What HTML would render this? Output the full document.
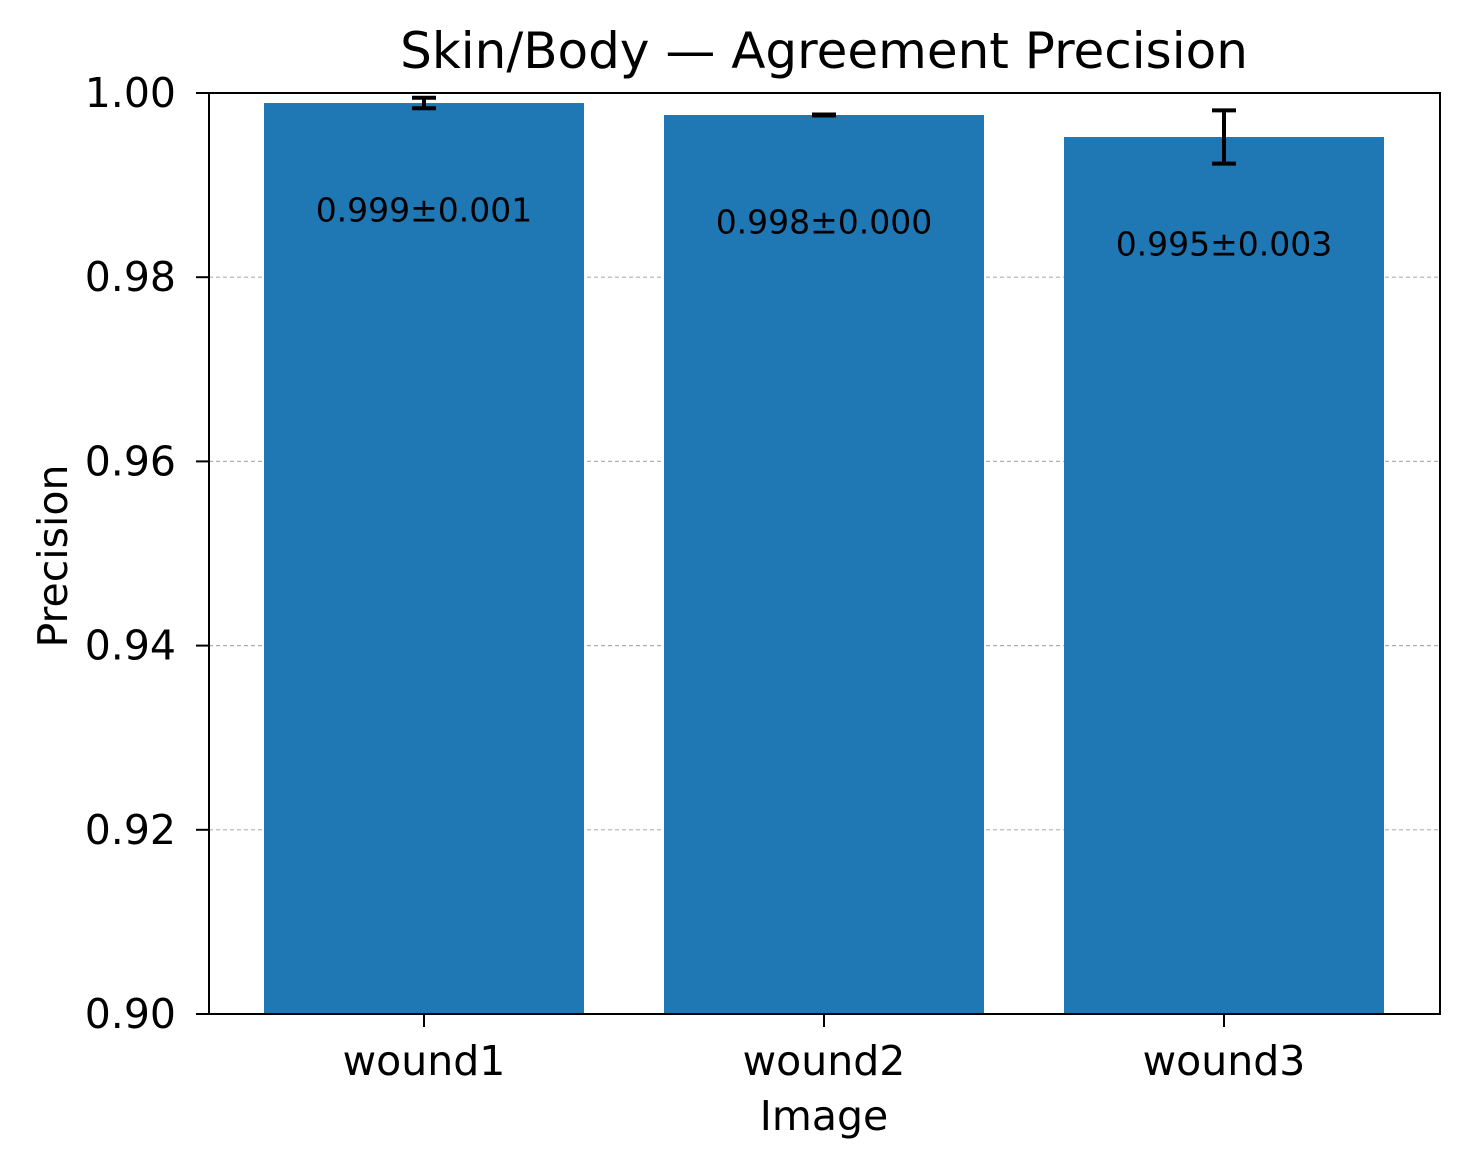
<!DOCTYPE html>
<html><head><meta charset="utf-8"><style>
body{margin:0;background:#fff}
text{font-family:"DejaVu Sans","Liberation Sans",sans-serif;fill:#000}
</style></head><body>
<svg width="1470" height="1170" viewBox="0 0 1470 1170" xmlns="http://www.w3.org/2000/svg">
<rect width="1470" height="1170" fill="#fff"/>
<g id="grid"></g><g id="bars"></g><g id="errs"></g><g id="labels"></g><g id="ticks"></g>
<rect x="209" y="93" width="1231" height="921" fill="none" stroke="#000" stroke-width="2"/>
<text x="824" y="68" font-size="50" text-anchor="middle">Skin/Body — Agreement Precision</text>
<text x="824" y="1130" font-size="41" text-anchor="middle">Image</text>
<text transform="translate(67,556) rotate(-90)" font-size="41" text-anchor="middle">Precision</text>
</svg>
<script>
const categories=["wound1","wound2","wound3"];
const values=[0.99891,0.99761,0.99522];
const errors=[0.00057,0.00005,0.00289];
const valueLabels=["0.999±0.001","0.998±0.000","0.995±0.003"];
const yTicks=[0.90,0.92,0.94,0.96,0.98,1.00];
const yTickLabels=["0.90","0.92","0.94","0.96","0.98","1.00"];
const NS="http://www.w3.org/2000/svg";
const L=209,R=1440,T=93,B=1014,ymin=0.90,ymax=1.00;
const y=v=>B-(v-ymin)/(ymax-ymin)*(B-T);
const x=i=>424+i*400;
function mk(tag,attrs,parent,txt){const e=document.createElementNS(NS,tag);for(const k in attrs)e.setAttribute(k,attrs[k]);if(txt!==undefined)e.textContent=txt;document.getElementById(parent).appendChild(e);return e;}
yTicks.forEach((t,i)=>{
  if(t>ymin&&t<ymax){const g=mk('line',{x1:L,x2:R,y1:y(t),y2:y(t),stroke:'#b0b0b0','stroke-width':1.2,'stroke-dasharray':'4,3'},'grid');
  
  }
  const tk=mk('line',{x1:L-13,x2:L,y1:y(t),y2:y(t),stroke:'#000','stroke-width':2},'ticks');
  
  
  const tl=mk('text',{x:L-33,y:y(t),'font-size':41,'text-anchor':'end','dominant-baseline':'central'},'ticks',yTickLabels[i]);
  
  
});
categories.forEach((c,i)=>{
  const cx=x(i);
  const b=mk('rect',{x:cx-160,y:y(values[i]),width:320,height:B-y(values[i]),fill:'#1f77b4'},'bars');
  
  
  const y1=y(values[i]+errors[i]),y2=y(values[i]-errors[i]);
  const e=mk('path',{d:`M${cx},${y1}V${y2}M${cx-12},${y1}H${cx+12}M${cx-12},${y2}H${cx+12}`,stroke:'#000','stroke-width':4,fill:'none'},'errs');
  
  
  const lb=mk('text',{x:cx,y:y(values[i]-0.0116),'font-size':33,'text-anchor':'middle','dominant-baseline':'central'},'labels',valueLabels[i]);
  
  
  const tk=mk('line',{x1:cx,x2:cx,y1:B,y2:B+13,stroke:'#000','stroke-width':2},'ticks');
  
  
  const tl=mk('text',{x:cx,y:1075,'font-size':41,'text-anchor':'middle'},'ticks',c);
  
  
});
</script>
</body></html>
